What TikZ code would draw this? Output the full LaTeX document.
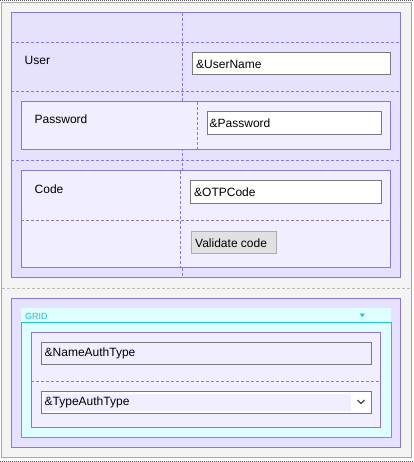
\documentclass[tikz,border=0pt]{standalone}
\usepackage{fontspec}
\setmainfont{Liberation Sans}
\definecolor{pborder}{HTML}{8878D8}
\definecolor{pfill}{HTML}{E6E2FE}
\definecolor{pinner}{HTML}{F0EEFF}
\definecolor{cborder}{HTML}{1EC0D8}
\definecolor{cfill}{HTML}{DFFEFF}
\definecolor{tbborder}{HTML}{7A7A7A}
\definecolor{btnfill}{HTML}{E1E1E1}
\definecolor{btnborder}{HTML}{ADADAD}
\definecolor{outerfill}{HTML}{F4F4F4}
\definecolor{outerborder}{HTML}{A8A8A8}
\newcommand{\mkbox}[6]{\node[#6, anchor=north west, inner sep=0pt, outer sep=0pt,
  minimum width={(#4-#2)*1pt}, minimum height={(#5-#3)*1pt}] (#1) at (#2,#3) {};}
\begin{document}
\begin{tikzpicture}[x=1pt,y=-1pt,
  outerbox/.style={draw=outerborder, fill=outerfill, line width=1pt},
  secbox/.style={draw=pborder, fill=pfill, line width=1pt},
  innerbox/.style={draw=pborder, fill=pinner, line width=1pt},
  gridbox/.style={draw=cborder, fill=cfill, line width=1pt},
  gridhead/.style={fill=cfill},
  textbox/.style={draw=tbborder, fill=white, line width=1pt},
  textboxp/.style={draw=tbborder, fill=pinner, line width=1pt},
  button/.style={draw=btnborder, fill=btnfill, line width=1pt},
  pdash/.style={draw=pborder, line width=1pt, dash pattern=on 3pt off 2pt},
  gdash/.style={draw=outerborder!80, line width=1pt, dash pattern=on 3pt off 2pt},
  dotline/.style={draw=black!65, line width=1pt, dash pattern=on 1pt off 1pt},
  lbl/.style={font=\fontsize{12}{14}\selectfont, text=black, inner sep=0pt, anchor=base west},
  gridlbl/.style={font=\fontsize{9}{10}\selectfont, text=cborder, inner sep=0pt, anchor=base west},
]
\useasboundingbox (0,0) rectangle (413,462);
% outer frame
\mkbox{outer}{1.5}{3}{411}{457}{outerbox}
\coordinate (dtl) at (0,0.5); \coordinate (dtr) at (413,0.5);
\coordinate (dbl) at (0,461); \coordinate (dbr) at (413,461);
\draw[dotline] (dtl) -- (dtr);
\draw[dotline] (dbl) -- (dbr);
\coordinate (sepl) at (2,288); \coordinate (sepr) at (411,288);
\draw[gdash] (sepl) -- (sepr);

% section 1
\mkbox{sec1}{11}{13}{400}{277}{secbox}
\coordinate (h1l) at (11,43); \coordinate (h1r) at (400,43);
\coordinate (h2l) at (11,92); \coordinate (h2r) at (400,92);
\coordinate (h3l) at (11,161); \coordinate (h3r) at (400,161);
\coordinate (v1t) at (182,13); \coordinate (v1b) at (182,277);
\draw[pdash] (h1l) -- (h1r);
\draw[pdash] (h2l) -- (h2r);
\draw[pdash] (h3l) -- (h3r);
\draw[pdash] (v1t) -- (v1b);

\node[lbl] (userlbl) at (24.5,65) {User};
\mkbox{usertb}{192}{53}{390.5}{75}{textbox}
\node[lbl] (usertxt) at (196,68.5) {\&UserName};

% password container
\mkbox{pwbox}{21}{102}{390}{150}{innerbox}
\coordinate (v2t) at (197,102); \coordinate (v2b) at (197,150);
\draw[pdash] (v2t) -- (v2b);
\node[lbl] (pwlbl) at (34.5,123.5) {Password};
\mkbox{pwtb}{207}{112}{381}{135}{textbox}
\node[lbl] (pwtxt) at (209.5,127.5) {\&Password};

% code container
\mkbox{codebox}{21}{171}{390}{267}{innerbox}
\coordinate (h4l) at (21,220); \coordinate (h4r) at (390,220);
\coordinate (v3t) at (180,171); \coordinate (v3b) at (180,267);
\draw[pdash] (h4l) -- (h4r);
\draw[pdash] (v3t) -- (v3b);
\node[lbl] (codelbl) at (34.5,193.5) {Code};
\mkbox{codetb}{190}{181}{381}{203}{textbox}
\node[lbl] (codetxt) at (194,196.5) {\&OTPCode};
\mkbox{valbtn}{191}{231}{276}{253}{button}
\node[lbl] (valtxt) at (195,247) {Validate code};

% section 2
\mkbox{sec2}{11}{298}{400}{447}{secbox}
\mkbox{ghead}{21}{308}{391}{322}{gridhead}
\mkbox{gbox}{21}{322}{391}{437}{gridbox}
\node[gridlbl] (gridtxt) at (25,319) {GRID};
\coordinate (tri1) at (359.5,313.5); \coordinate (tri2) at (365,313.5); \coordinate (tri3) at (362.2,317);
\fill[cborder] (tri1) -- (tri2) -- (tri3) -- cycle;
\mkbox{ginner}{31}{332}{380}{427}{innerbox}
\coordinate (h5l) at (31,381); \coordinate (h5r) at (380,381);
\draw[pdash] (h5l) -- (h5r);
\mkbox{nametb}{41}{342}{371}{364}{textboxp}
\node[lbl] (nametxt) at (44.5,356.5) {\&NameAuthType};
\mkbox{typetb}{41}{391}{371}{413}{textbox}
\mkbox{typefill}{43.5}{393.5}{351}{410.5}{gridhead,fill=pinner}
\node[lbl] (typetxt) at (44.5,405) {\&TypeAuthType};
\coordinate (ch1) at (357.5,400); \coordinate (ch2) at (361,403.5); \coordinate (ch3) at (364.5,400);
\draw[black!70, line width=1.2pt] (ch1) -- (ch2) -- (ch3);
\end{tikzpicture}
\end{document}
